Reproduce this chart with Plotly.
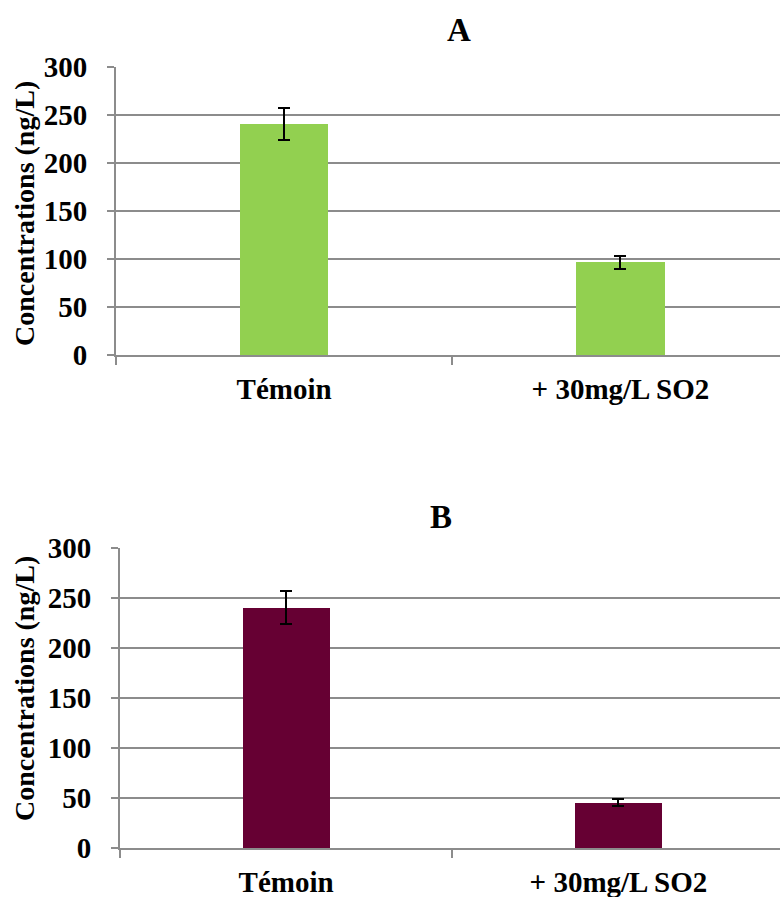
import plotly.graph_objects as go

categories = ["Témoin", "+ 30mg/L SO2"]
values_a = [240.5, 96.5]
errors_a = [17, 7]
values_b = [240.5, 45.5]
errors_b = [16.5, 3.3]
y_ticks = [0, 50, 100, 150, 200, 250, 300]

W, H = 780, 897
FONT = "Liberation Serif"
GRID = "#8c8c8c"

fig = go.Figure()
fig.add_trace(go.Bar(
    x=categories, y=values_a, width=0.262, marker=dict(color="#92D050", line=dict(width=0)),
    error_y=dict(type="data", array=errors_a, color="black", thickness=2, width=6),
    xaxis="x", yaxis="y", showlegend=False))
fig.add_trace(go.Bar(
    x=categories, y=values_b, width=0.262, marker=dict(color="#660033", line=dict(width=0)),
    error_y=dict(type="data", array=errors_b, color="black", thickness=2, width=6),
    xaxis="x2", yaxis="y2", showlegend=False))

def px_x(p):
    return p / W

def px_y(p):
    return 1 - p / H

tickfont = dict(family=FONT, size=29, color="black", weight="bold")

xcommon = dict(type="category", showline=True, linecolor=GRID, linewidth=2,
               ticks="outside", tickson="boundaries", ticklen=8, tickcolor=GRID, tickwidth=2,
               showgrid=False, tickfont=tickfont, fixedrange=True, automargin=False,
               ticklabelstandoff=7)
ycommon = dict(range=[0, 300], tickvals=y_ticks, showline=True, linecolor=GRID, linewidth=2,
               ticks="outside", ticklen=7, tickcolor=GRID, tickwidth=2,
               showgrid=True, gridcolor=GRID, gridwidth=2, zeroline=False,
               tickfont=tickfont, fixedrange=True, automargin=False, ticklabelstandoff=14)

fig.update_layout(
    width=W, height=H, margin=dict(l=0, r=0, t=0, b=0, pad=0, autoexpand=False),
    paper_bgcolor="white", plot_bgcolor="white", bargap=0,
    xaxis=dict(domain=[px_x(116), 1], anchor="y", range=[-0.5, -0.5 + (780 - 116) / 336.3], **xcommon),
    yaxis=dict(domain=[px_y(355), px_y(67)], anchor="x", **ycommon),
    xaxis2=dict(domain=[px_x(120), 1], anchor="y2", range=[-0.5, -0.5 + (780 - 120) / 332.3], **xcommon),
    yaxis2=dict(domain=[px_y(848), px_y(548)], anchor="x2", **ycommon),
)

title_font = dict(family=FONT, size=33, color="black", weight="bold")
label_font = dict(family=FONT, size=28, color="black", weight="bold")
fig.add_annotation(text="A", x=px_x(459), y=px_y(30), xref="paper", yref="paper",
                   showarrow=False, font=title_font, xanchor="center", yanchor="middle")
fig.add_annotation(text="B", x=px_x(441), y=px_y(517), xref="paper", yref="paper",
                   showarrow=False, font=title_font, xanchor="center", yanchor="middle")
fig.add_annotation(text="Concentrations (ng/L)", x=px_x(24), y=px_y(214), xref="paper", yref="paper",
                   showarrow=False, font=label_font, textangle=-90, xanchor="center", yanchor="middle")
fig.add_annotation(text="Concentrations (ng/L)", x=px_x(24), y=px_y(689), xref="paper", yref="paper",
                   showarrow=False, font=label_font, textangle=-90, xanchor="center", yanchor="middle")

fig.write_html("out.html", config={"displayModeBar": False},
               post_script="document.body.style.margin='0';document.body.style.overflow='hidden';")
